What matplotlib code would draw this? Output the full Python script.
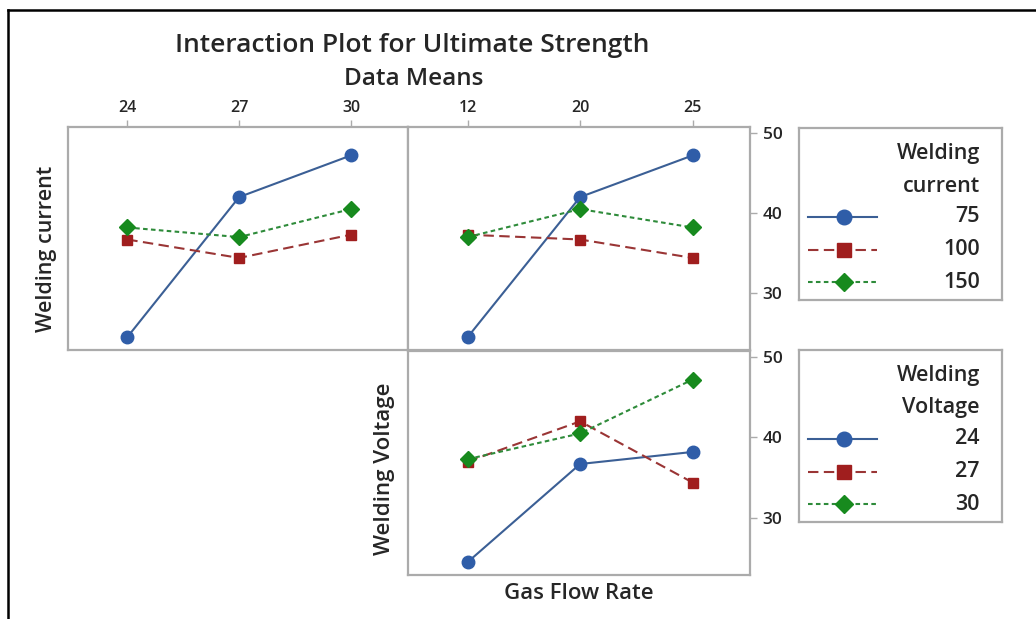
import matplotlib
matplotlib.use("Agg")
import matplotlib.pyplot as plt
from matplotlib.lines import Line2D

plt.rcParams['font.family'] = ['Open Sans', 'DejaVu Sans']

# niveis dos fatores
voltage_levels = ['24', '27', '30']
gas_levels = ['12', '20', '25']
current_levels = ['75', '100', '150']

# medias: welding current x welding voltage (painel superior esquerdo)
cur75_by_voltage = [24.5, 42.0, 47.2]
cur100_by_voltage = [36.7, 34.4, 37.3]
cur150_by_voltage = [38.2, 37.0, 40.5]

# medias: welding current x gas flow rate (painel superior direito)
cur75_by_gas = [24.5, 42.0, 47.2]
cur100_by_gas = [37.3, 36.7, 34.4]
cur150_by_gas = [37.0, 40.5, 38.2]

# medias: welding voltage x gas flow rate (painel inferior)
volt24_by_gas = [24.5, 36.7, 38.2]
volt27_by_gas = [37.0, 42.0, 34.4]
volt30_by_gas = [37.3, 40.5, 47.2]

y_ticks = [30, 40, 50]

BLUE = '#2F5DA8'
BLUE_LINE = '#3B5F95'
RED = '#A01E1E'
RED_LINE = '#9A3535'
GREEN = '#178A1E'
GREEN_LINE = '#2E8B3A'
FRAME = '#ABABAB'
TXT = '#262626'
SEMI = 'semibold'

styles = [
    dict(color=BLUE_LINE, ls='-', marker='o', mfc=BLUE, mec=BLUE),
    dict(color=RED_LINE, ls=(0, (5, 2.6)), marker='s', mfc=RED, mec=RED),
    dict(color=GREEN_LINE, ls=(0, (2.2, 1.6)), marker='D', mfc=GREEN, mec=GREEN),
]
plot_ms = [9, 7.8, 7.8]
legend_ms = [10.5, 9.5, 9.5]

W, H = 1036, 619
fig = plt.figure(figsize=(W / 100, H / 100), dpi=100)


def rect(x0, y0, x1, y1):
    return [x0 / W, 1 - y1 / H, (x1 - x0) / W, (y1 - y0) / H]


def style_panel(ax):
    for s in ax.spines.values():
        s.set_color(FRAME)
        s.set_linewidth(1.6)
    ax.set_ylim(22.9, 50.75)
    ax.set_xlim(-0.53, 2.51)
    ax.tick_params(colors=FRAME, labelcolor=TXT, length=5, width=1.0)


def draw(ax, series, levels):
    x = list(range(len(levels)))
    for vals, st, ms in zip(series, styles, plot_ms):
        ax.plot(x, vals, lw=1.5, ms=ms, zorder=3, **st)


ax1 = fig.add_axes(rect(68, 127, 408, 350))
ax2 = fig.add_axes(rect(408, 127, 750, 350))
ax3 = fig.add_axes(rect(408, 351, 750, 575))

draw(ax1, [cur75_by_voltage, cur100_by_voltage, cur150_by_voltage], voltage_levels)
draw(ax2, [cur75_by_gas, cur100_by_gas, cur150_by_gas], gas_levels)
draw(ax3, [volt24_by_gas, volt27_by_gas, volt30_by_gas], gas_levels)

for ax in (ax1, ax2, ax3):
    style_panel(ax)

for ax, levels in ((ax1, voltage_levels), (ax2, gas_levels)):
    ax.set_xticks(range(3))
    ax.set_xticklabels(levels, fontsize=11.5, fontweight=SEMI)
    ax.xaxis.tick_top()
    ax.tick_params(axis='x', pad=3)

ax3.set_xticks([])
ax1.set_yticks([])
for ax in (ax2, ax3):
    ax.yaxis.tick_right()
    ax.set_yticks(y_ticks)
    ax.set_yticklabels([str(t) for t in y_ticks], fontsize=12.5, fontweight=SEMI)
    ax.tick_params(axis='y', pad=4)

ax1.set_ylabel('Welding current', fontsize=15.5, fontweight=SEMI, color=TXT)
ax1.yaxis.set_label_coords(-0.033, 0.455)
ax3.set_ylabel('Welding Voltage', fontsize=16, fontweight=SEMI, color=TXT)
ax3.yaxis.set_label_coords(-0.037, 0.475)
ax3.set_xlabel('Gas Flow Rate', fontsize=16, fontweight=SEMI, color=TXT, labelpad=6)

fig.text(412 / W, 1 - 45 / H, 'Interaction Plot for Ultimate Strength',
         ha='center', va='center', fontsize=19, fontweight=SEMI, color=TXT)
fig.text(414 / W, 1 - 79 / H, 'Data Means', ha='center', va='center',
         fontsize=17.5, fontweight=SEMI, color=TXT)


# legendas em caixas a direita
def legend_box(box, title_lines, labels):
    lg = fig.add_axes(rect(*box))
    lg.set_xlim(box[0], box[2])
    lg.set_ylim(box[3], box[1])
    lg.set_xticks([])
    lg.set_yticks([])
    for s in lg.spines.values():
        s.set_color(FRAME)
        s.set_linewidth(1.6)
    top = box[1]
    kw = dict(ha='right', va='center', fontsize=15.5, fontweight=SEMI, color=TXT)
    lg.text(980, top + 26, title_lines[0], **kw)
    lg.text(980, top + 58, title_lines[1], **kw)
    for i, (lab, st, ms) in enumerate(zip(labels, styles, legend_ms)):
        yy = top + 89 + i * 32.5
        lg.add_line(Line2D([808, 844, 877], [yy, yy, yy], lw=1.5, ms=ms,
                           markevery=[1], **st))
        lg.text(980, yy, lab, **kw)


legend_box((799, 128, 1002, 300), ['Welding', 'current'], current_levels)
legend_box((799, 350, 1002, 522), ['Welding', 'Voltage'], voltage_levels)

# moldura externa (so topo e lado esquerdo aparecem)
fig.add_artist(Line2D([8 / W, 8 / W], [0, 1 - 10 / H], color='black', lw=1.8))
fig.add_artist(Line2D([8 / W, 1], [1 - 10 / H, 1 - 10 / H], color='black', lw=1.8))

fig.savefig('out.png', dpi=100)
